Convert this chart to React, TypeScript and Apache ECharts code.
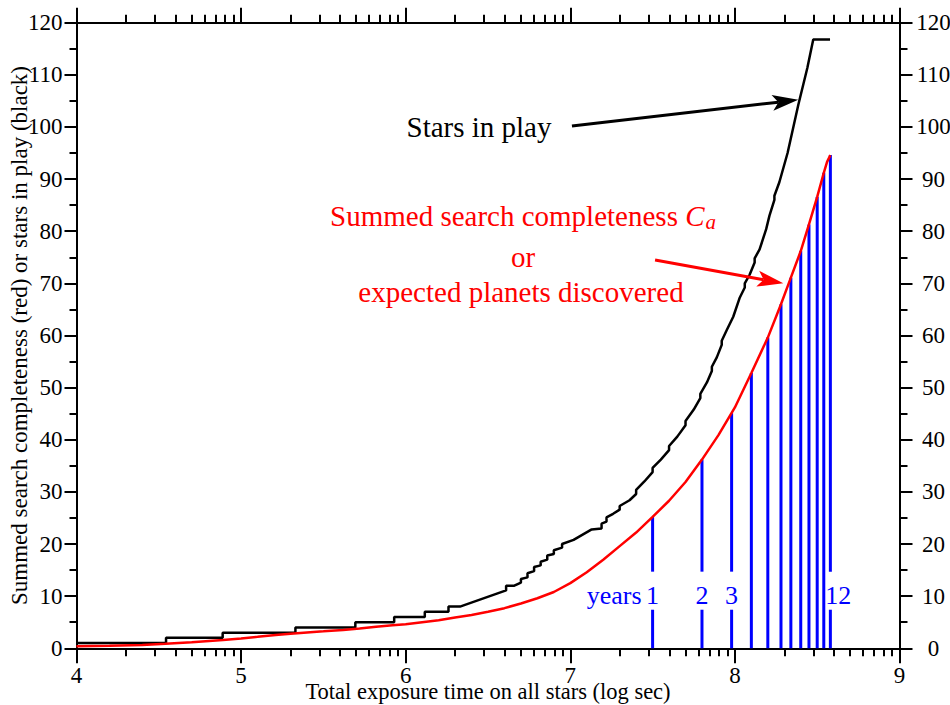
import React, { useEffect, useRef } from 'react';
import * as echarts from 'echarts';

const FONT = 'Liberation Serif';

// axis structure
const X_MIN = 4;
const X_MAX = 9;
const Y_MIN = 0;
const Y_MAX = 120;
const decades = [4, 5, 6, 7, 8];
const decadeLogOffsets = [0.301, 0.477, 0.602, 0.699, 0.778, 0.845, 0.903, 0.954];

// Stars in play (black staircase): [log10 exposure sec, stars]
const starsInPlay: [number, number][] = [
  [4.0, 1], [4.544, 1], [4.544, 2], [4.888, 2], [4.888, 3], [5.33, 3], [5.33, 4],
  [5.694, 4], [5.694, 5], [5.93, 5], [5.93, 6], [6.116, 6], [6.116, 7], [6.26, 7], [6.26, 8],
  [6.33, 8], [6.61, 11.1], [6.61, 12], [6.66, 12], [6.70, 12.6], [6.70, 13.3], [6.74, 13.6],
  [6.74, 14.4], [6.78, 14.8], [6.78, 15.6], [6.82, 15.9], [6.82, 16.6], [6.86, 17.0], [6.86, 17.8],
  [6.90, 18.1], [6.90, 18.8], [6.95, 19.3], [6.95, 20.0], [7.02, 20.8], [7.13, 22.8], [7.19, 23.0],
  [7.19, 23.9], [7.22, 24.3], [7.22, 25.1], [7.26, 25.8], [7.30, 26.6], [7.30, 27.3], [7.36, 28.4],
  [7.40, 29.6], [7.40, 30.4], [7.45, 32.0], [7.50, 33.8], [7.50, 34.6], [7.55, 36.2], [7.60, 38.0],
  [7.60, 38.8], [7.65, 40.6], [7.70, 42.8], [7.70, 43.6], [7.75, 45.8], [7.79, 48.0], [7.79, 48.8],
  [7.83, 51.0], [7.86, 53.2], [7.86, 54.0], [7.89, 55.8], [7.92, 58.2], [7.92, 59.0], [7.95, 61.0],
  [7.99, 63.6], [8.03, 67.3], [8.06, 69.2], [8.06, 70.0], [8.09, 71.7], [8.12, 74.0], [8.12, 74.8],
  [8.15, 76.5], [8.19, 80.4], [8.21, 83.0], [8.24, 86.0], [8.24, 86.8], [8.27, 89.4], [8.32, 95.0],
  [8.385, 104.2], [8.44, 111.3], [8.476, 116.8], [8.578, 116.8],
];

// Summed search completeness (red curve)
const summedCompleteness: [number, number][] = [
  [4.0, 0.4], [4.2, 0.5], [4.4, 0.65], [4.54, 0.85], [4.7, 1.15], [4.89, 1.6], [5.0, 1.9],
  [5.1, 2.2], [5.21, 2.55], [5.3, 2.8], [5.4, 3.05], [5.5, 3.25], [5.62, 3.5], [5.72, 3.8],
  [5.82, 4.15], [5.92, 4.4], [6.0, 4.6], [6.1, 5.0], [6.2, 5.4], [6.3, 5.9], [6.4, 6.4],
  [6.5, 7.0], [6.6, 7.7], [6.7, 8.6], [6.8, 9.6], [6.9, 10.8], [7.0, 12.5], [7.1, 14.6],
  [7.2, 17.0], [7.3, 19.6], [7.4, 22.2], [7.5, 25.2], [7.6, 28.3], [7.7, 31.9], [7.8, 36.2],
  [7.9, 40.9], [8.0, 46.2], [8.1, 52.8], [8.2, 59.6], [8.28, 66.0], [8.34, 71.1], [8.40, 76.2],
  [8.45, 81.3], [8.50, 86.6], [8.54, 91.2], [8.56, 93.3], [8.58, 94.6],
];

// Year markers (blue)
const yearPositions = [7.50, 7.80, 7.98, 8.10, 8.20, 8.28, 8.34, 8.40, 8.45, 8.50, 8.54, 8.58];
const yearHeights = [25.2, 36.2, 45.1, 52.8, 59.6, 66.0, 71.1, 76.2, 81.3, 86.6, 91.2, 94.6];
const yearLabels = ['1', '2', '3', '', '', '', '', '', '', '', '', '12'];
const yearLabelGap = [7.4, 14.7];
const yearLabelY = 10.2;
const yearsWord = 'years';

// Arrows: [x0, y0, x1, y1] in data coordinates
const arrowLines: [number, number, number, number][] = [
  [7.01, 100.2, 8.385, 105.2],
  [7.515, 74.5, 8.294, 70.0],
];
const arrowColors = ['#000000', '#ff0000'];

const minorX: number[] = [];
decades.forEach((d) => decadeLogOffsets.forEach((o) => minorX.push(d + o)));

export default function App() {
  const ref = useRef<HTMLDivElement>(null);
  useEffect(() => {
    if (!ref.current) return;
    const chart = echarts.init(ref.current, undefined, { renderer: 'svg' });
    const axisLine = { show: true, onZero: false, lineStyle: { color: '#000', width: 2 } };
    const tickStyle = { color: '#000', width: 2 };
    const labelBase = { color: '#000', fontFamily: FONT, fontSize: 23 };

    const xMajor = (pos: 'top' | 'bottom', showLabel: boolean, extra: any = {}) => ({
      type: 'value', min: X_MIN, max: X_MAX, interval: 1, position: pos,
      axisLine, splitLine: { show: false },
      axisTick: { show: true, inside: false, length: 15, lineStyle: tickStyle },
      axisLabel: { show: showLabel, ...labelBase, lineHeight: 16, margin: 19.5 },
      ...extra,
    });
    const xMinor = (pos: 'top' | 'bottom') => ({
      type: 'value', min: X_MIN, max: X_MAX, position: pos,
      axisLine: { show: false, onZero: false }, splitLine: { show: false },
      axisTick: { show: true, inside: false, length: 8, lineStyle: tickStyle, customValues: minorX },
      axisLabel: { show: false },
    });

    const option: any = {
      animation: false,
      backgroundColor: '#fff',
      grid: {
        left: 76.5, right: 50.5, top: 22.7, bottom: 56.7,
        containLabel: false, outerBoundsMode: 'none',
      },
      xAxis: [
        xMajor('bottom', true, {
          name: 'Total exposure time on all stars (log sec)', nameLocation: 'middle', nameGap: 35.5,
          nameMoveOverlap: false,
          nameTextStyle: { color: '#000', fontFamily: FONT, fontSize: 22.5, lineHeight: 16 },
        }),
        xMinor('bottom'),
        xMajor('top', false),
        xMinor('top'),
      ],
      yAxis: [
        {
          type: 'value', min: Y_MIN, max: Y_MAX, interval: 10, position: 'left',
          axisLine, splitLine: { show: false },
          axisTick: { show: true, inside: false, length: 12, lineStyle: tickStyle },
          minorTick: { show: true, splitNumber: 2, length: 7, lineStyle: tickStyle },
          axisLabel: { ...labelBase, margin: 14 },
          name: 'Summed search completeness (red) or stars in play (black)',
          nameLocation: 'middle', nameGap: 46, nameMoveOverlap: false,
          nameTextStyle: { color: '#000', fontFamily: FONT, fontSize: 23 },
        },
        {
          type: 'value', min: Y_MIN, max: Y_MAX, interval: 10, position: 'right',
          axisLine, splitLine: { show: false },
          axisTick: { show: true, inside: false, length: 13, lineStyle: tickStyle },
          minorTick: { show: true, splitNumber: 2, length: 8, lineStyle: tickStyle },
          axisLabel: { ...labelBase, margin: 34, align: 'center' },
        },
      ],
      series: [
        {
          type: 'custom', xAxisIndex: 0, yAxisIndex: 0, z: 2,
          data: yearPositions.map((x, i) => [x, yearHeights[i]]),
          renderItem: (params: any, api: any) => {
            const i = params.dataIndex;
            const x = api.value(0);
            const top = api.value(1);
            const base = api.coord([x, 0]);
            const tp = api.coord([x, top]);
            const style = { stroke: '#0000ff', lineWidth: 3 };
            const lbl = yearLabels[i];
            const children: any[] = [];
            if (lbl) {
              const g0 = api.coord([x, yearLabelGap[0]]);
              const g1 = api.coord([x, yearLabelGap[1]]);
              children.push({ type: 'line', shape: { x1: base[0], y1: base[1], x2: g0[0], y2: g0[1] }, style });
              children.push({ type: 'line', shape: { x1: g1[0], y1: g1[1], x2: tp[0], y2: tp[1] }, style });
              const mid = api.coord([x, yearLabelY]);
              const multi = lbl.length > 1;
              children.push({
                type: 'text', x: multi ? mid[0] - 5 : mid[0], y: mid[1],
                style: {
                  text: lbl, fill: '#0000ff', fontFamily: FONT, fontSize: 26,
                  align: multi ? 'left' : 'center', verticalAlign: 'middle',
                },
              });
              if (i === 0) {
                children.push({
                  type: 'text', x: mid[0] - 11, y: mid[1],
                  style: {
                    text: yearsWord, fill: '#0000ff', fontFamily: FONT, fontSize: 26,
                    align: 'right', verticalAlign: 'middle',
                  },
                });
              }
            } else {
              children.push({ type: 'line', shape: { x1: base[0], y1: base[1], x2: tp[0], y2: tp[1] }, style });
            }
            return { type: 'group', children };
          },
        },
        {
          type: 'line', xAxisIndex: 0, yAxisIndex: 0, z: 3,
          data: starsInPlay, showSymbol: false, symbol: 'none',
          lineStyle: { color: '#000', width: 2.5 },
        },
        {
          type: 'line', xAxisIndex: 0, yAxisIndex: 0, z: 4,
          data: summedCompleteness, showSymbol: false, symbol: 'none',
          smooth: false,
          lineStyle: { color: '#ff0000', width: 2.5 },
        },
        {
          type: 'custom', xAxisIndex: 0, yAxisIndex: 0, z: 5,
          data: arrowLines,
          renderItem: (params: any, api: any) => {
            const i = params.dataIndex;
            const s = api.coord([api.value(0), api.value(1)]);
            const e = api.coord([api.value(2), api.value(3)]);
            const dx = e[0] - s[0];
            const dy = e[1] - s[1];
            const len = Math.sqrt(dx * dx + dy * dy);
            const ux = dx / len;
            const uy = dy / len;
            const nx = -uy;
            const ny = ux;
            const L = 26;
            const W = 8;
            const notch = 6;
            const color = arrowColors[i];
            const bx = e[0] - ux * L;
            const by = e[1] - uy * L;
            const mx = e[0] - ux * (L - notch);
            const my = e[1] - uy * (L - notch);
            return {
              type: 'group',
              children: [
                { type: 'line', shape: { x1: s[0], y1: s[1], x2: mx, y2: my }, style: { stroke: color, lineWidth: 3 } },
                {
                  type: 'polygon',
                  shape: { points: [[e[0], e[1]], [bx + nx * W, by + ny * W], [mx, my], [bx - nx * W, by - ny * W]] },
                  style: { fill: color },
                },
              ],
            };
          },
        },
      ],
      graphic: [
        {
          type: 'text', x: 479, y: 127,
          style: {
            text: 'Stars in play', fill: '#000', fontFamily: FONT, fontSize: 29,
            align: 'center', verticalAlign: 'middle',
          },
        },
        {
          type: 'text', x: 523, y: 216,
          style: {
            text: '{n|Summed search completeness }{i|C}{s|a}',
            align: 'center', verticalAlign: 'middle',
            rich: {
              n: { fill: '#ff0000', fontFamily: FONT, fontSize: 29 },
              i: { fill: '#ff0000', fontFamily: FONT, fontSize: 29, fontStyle: 'italic' },
              s: { fill: '#ff0000', fontFamily: FONT, fontSize: 21, fontStyle: 'italic', padding: [12, 0, 0, 1] },
            },
          },
        },
        {
          type: 'text', x: 523, y: 257,
          style: {
            text: 'or', fill: '#ff0000', fontFamily: FONT, fontSize: 29,
            align: 'center', verticalAlign: 'middle',
          },
        },
        {
          type: 'text', x: 521, y: 292,
          style: {
            text: 'expected planets discovered', fill: '#ff0000', fontFamily: FONT, fontSize: 29,
            align: 'center', verticalAlign: 'middle',
          },
        },
      ],
    };
    chart.setOption(option);
    return () => chart.dispose();
  }, []);
  return (
    <div
      ref={ref}
      style={{ position: 'fixed', left: 0, top: 0, width: 950, height: 705, background: '#fff' }}
    />
  );
}
